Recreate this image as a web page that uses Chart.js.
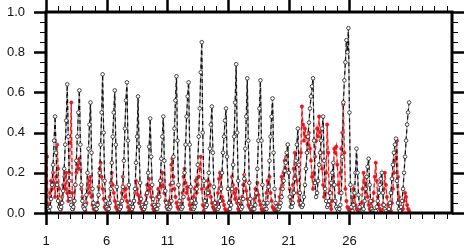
<!DOCTYPE html>
<html><head><meta charset="utf-8">
<script src="https://cdn.jsdelivr.net/npm/chart.js@4/dist/chart.umd.min.js"></script>
<style>html,body{margin:0;padding:0;background:#fff;}canvas{display:block;}</style>
</head><body>
<canvas id="c" width="470" height="249"></canvas>
<script>
// Two-hourly samples (12 per day), days 1..30
const dayStart = 1;
const samplesPerDay = 12;
const xTickLabels = [1, 6, 11, 16, 21, 26];
const yTickValues = [0, 0.2, 0.4, 0.6, 0.8, 1.0];

const blackSeries = [
 0.05,0.03,0.02,0.01,0.03,0.07,0.14,0.24,0.36,0.48,0.30,0.14,
 0.06,0.03,0.02,0.03,0.05,0.11,0.22,0.34,0.46,0.64,0.38,0.16,
 0.07,0.04,0.02,0.03,0.06,0.14,0.26,0.38,0.50,0.61,0.34,0.14,
 0.06,0.03,0.02,0.04,0.09,0.20,0.32,0.44,0.55,0.30,0.12,0.05,
 0.03,0.02,0.02,0.04,0.09,0.20,0.34,0.50,0.69,0.40,0.16,0.06,
 0.03,0.02,0.02,0.05,0.12,0.25,0.38,0.50,0.61,0.34,0.13,0.05,
 0.03,0.02,0.03,0.06,0.13,0.26,0.42,0.56,0.65,0.36,0.14,0.05,
 0.03,0.02,0.03,0.06,0.12,0.25,0.38,0.58,0.33,0.15,0.07,0.04,
 0.03,0.02,0.03,0.05,0.10,0.20,0.33,0.47,0.28,0.14,0.07,0.04,
 0.03,0.02,0.02,0.04,0.08,0.16,0.27,0.38,0.48,0.26,0.11,0.05,
 0.03,0.02,0.02,0.03,0.06,0.15,0.28,0.42,0.56,0.68,0.36,0.14,
 0.06,0.03,0.02,0.03,0.08,0.20,0.34,0.48,0.58,0.65,0.34,0.13,
 0.06,0.03,0.02,0.03,0.05,0.12,0.24,0.38,0.52,0.70,0.85,0.40,
 0.16,0.06,0.03,0.04,0.10,0.20,0.32,0.44,0.53,0.30,0.13,0.05,
 0.03,0.02,0.02,0.03,0.06,0.12,0.20,0.30,0.38,0.46,0.52,0.28,
 0.12,0.05,0.02,0.04,0.12,0.24,0.38,0.55,0.74,0.40,0.16,0.06,
 0.03,0.02,0.03,0.07,0.17,0.32,0.48,0.67,0.36,0.15,0.07,0.03,
 0.02,0.02,0.02,0.04,0.10,0.22,0.36,0.52,0.66,0.36,0.14,0.05,
 0.03,0.02,0.02,0.05,0.13,0.26,0.38,0.48,0.57,0.30,0.12,0.05,
 0.03,0.02,0.02,0.03,0.05,0.08,0.12,0.16,0.21,0.25,0.30,0.34,
 0.20,0.08,0.03,0.03,0.05,0.10,0.17,0.26,0.34,0.42,0.24,0.10,
 0.05,0.03,0.04,0.08,0.14,0.22,0.30,0.38,0.45,0.52,0.58,0.63,
 0.67,0.36,0.15,0.08,0.10,0.16,0.24,0.30,0.36,0.42,0.48,0.26,
 0.12,0.06,0.03,0.04,0.06,0.10,0.15,0.20,0.25,0.14,0.06,0.03,
 0.02,0.01,0.02,0.04,0.10,0.28,0.55,0.66,0.75,0.86,0.80,0.92,
 0.50,0.14,0.03,0.01,0.04,0.10,0.20,0.32,0.20,0.09,0.03,0.01,
 0.01,0.01,0.02,0.06,0.12,0.18,0.23,0.27,0.14,0.06,0.02,0.01,
 0.01,0.00,0.01,0.03,0.06,0.10,0.14,0.17,0.20,0.10,0.04,0.02,
 0.01,0.00,0.00,0.02,0.05,0.10,0.17,0.24,0.30,0.34,0.37,0.16,
 0.05,0.02,0.01,0.03,0.06,0.12,0.20,0.28,0.36,0.44,0.50,0.55
];

const redSeries = [
 0.44,0.28,0.03,0.01,0.10,0.16,0.12,0.20,0.15,0.08,0.18,0.34,
 0.22,0.12,0.04,0.02,0.08,0.14,0.18,0.12,0.20,0.10,0.06,0.20,
 0.35,0.55,0.10,0.02,0.06,0.14,0.20,0.24,0.22,0.27,0.22,0.12,
 0.08,0.04,0.02,0.01,0.05,0.12,0.16,0.10,0.18,0.08,0.04,0.02,
 0.03,0.01,0.02,0.05,0.13,0.22,0.25,0.18,0.12,0.07,0.03,0.02,
 0.02,0.01,0.03,0.08,0.15,0.20,0.14,0.10,0.06,0.03,0.02,0.01,
 0.01,0.02,0.04,0.10,0.18,0.12,0.08,0.12,0.06,0.03,0.01,0.01,
 0.02,0.01,0.03,0.06,0.10,0.16,0.12,0.09,0.05,0.08,0.03,0.02,
 0.01,0.02,0.05,0.09,0.14,0.11,0.17,0.12,0.08,0.04,0.02,0.01,
 0.02,0.04,0.08,0.12,0.10,0.16,0.13,0.20,0.14,0.10,0.06,0.03,
 0.02,0.03,0.06,0.14,0.24,0.27,0.18,0.12,0.08,0.05,0.03,0.02,
 0.03,0.02,0.05,0.10,0.18,0.22,0.15,0.10,0.13,0.07,0.04,0.02,
 0.02,0.04,0.08,0.12,0.16,0.10,0.14,0.18,0.22,0.28,0.12,0.04,
 0.01,0.03,0.06,0.12,0.16,0.10,0.14,0.08,0.05,0.03,0.02,0.01,
 0.02,0.05,0.10,0.17,0.20,0.13,0.08,0.06,0.04,0.02,0.01,0.01,
 0.01,0.02,0.06,0.12,0.18,0.14,0.10,0.07,0.12,0.05,0.02,0.01,
 0.02,0.04,0.08,0.14,0.19,0.16,0.11,0.07,0.04,0.03,0.02,0.01,
 0.01,0.03,0.07,0.12,0.10,0.15,0.09,0.06,0.04,0.02,0.01,0.01,
 0.02,0.05,0.10,0.16,0.13,0.18,0.10,0.06,0.03,0.02,0.01,0.00,
 0.01,0.02,0.04,0.08,0.12,0.18,0.14,0.20,0.26,0.22,0.28,0.34,
 0.20,0.12,0.06,0.08,0.14,0.22,0.30,0.24,0.16,0.10,0.06,0.04,
 0.30,0.53,0.44,0.36,0.42,0.38,0.30,0.34,0.40,0.32,0.26,0.18,
 0.12,0.20,0.28,0.36,0.42,0.38,0.48,0.40,0.30,0.22,0.14,0.08,
 0.10,0.20,0.44,0.30,0.10,0.04,0.02,0.06,0.18,0.32,0.30,0.33,
 0.24,0.14,0.10,0.20,0.32,0.40,0.54,0.30,0.12,0.06,0.03,0.02,
 0.01,0.00,0.02,0.06,0.12,0.08,0.04,0.02,0.00,0.01,0.00,0.02,
 0.05,0.12,0.20,0.15,0.10,0.18,0.08,0.04,0.02,0.01,0.03,0.06,
 0.10,0.18,0.25,0.16,0.08,0.04,0.02,0.01,0.00,0.04,0.12,0.20,
 0.14,0.08,0.04,0.02,0.00,0.01,0.05,0.12,0.20,0.26,0.30,0.36,
 0.18,0.08,0.03,0.01,0.00,0.02,0.06,0.10,0.08,0.04,0.02,0.01
];

const toPoints = arr => arr.map((v, i) => ({x: dayStart + i / samplesPerDay, y: v}));

const frame = {
  id: 'frame',
  afterDraw(chart) {
    const {ctx, chartArea: a, scales: {x, y}} = chart;
    ctx.save();
    ctx.strokeStyle = '#000';
    const seg = (x1, y1, x2, y2, w) => { ctx.lineWidth = w; ctx.beginPath(); ctx.moveTo(x1, y1); ctx.lineTo(x2, y2); ctx.stroke(); };
    for (let d = 1; d <= x.max; d++) {
      const px = Math.round(x.getPixelForValue(d)) + 0.5;
      const major = xTickLabels.includes(d);
      const L = major ? 12 : 6, w = major ? 2.5 : 1;
      seg(px, a.bottom, px, a.bottom + L, w);
      seg(px, a.top, px, a.top - L, w);
    }
    for (let k = 0; k <= 20; k++) {
      const py = Math.round(y.getPixelForValue(k * 0.05)) + 0.5;
      const major = k % 4 === 0;
      const L = major ? 12 : 6, w = major ? 2.5 : 1;
      seg(a.left, py, a.left - L, py, w);
      seg(a.right, py, a.right + L, py, w);
    }
    ctx.lineWidth = 3;
    ctx.strokeRect(a.left, a.top, a.right - a.left, a.bottom - a.top);
    ctx.restore();
  }
};

const zeroPad = s => { s.paddingTop = 0; s.paddingBottom = 0; s.paddingLeft = 0; s.paddingRight = 0; };

new Chart(document.getElementById('c'), {
  type: 'line',
  data: {
    datasets: [
      {data: toPoints(redSeries), borderColor: '#f49a9a', borderWidth: 1.2, pointRadius: 0, tension: 0, order: 4},
      {data: toPoints(redSeries), borderColor: '#e8141c', borderWidth: 1.2, borderDash: [4, 3], pointRadius: 1.7, pointBackgroundColor: '#e8141c', pointBorderColor: '#e8141c', pointBorderWidth: 0.5, tension: 0, order: 3},
      {data: toPoints(blackSeries), borderColor: '#9a9a9a', borderWidth: 1.2, pointRadius: 0, tension: 0, order: 2},
      {data: toPoints(blackSeries), borderColor: '#111', borderWidth: 1.2, borderDash: [4, 3], pointRadius: 1.8, pointBackgroundColor: '#fff', pointBorderColor: '#333', pointBorderWidth: 0.9, tension: 0, order: 1}
    ]
  },
  options: {
    responsive: false,
    animation: false,
    devicePixelRatio: 1,
    layout: {padding: {left: 0, right: 18, top: 12, bottom: 0}},
    plugins: {legend: {display: false}, tooltip: {enabled: false}},
    elements: {point: {hitRadius: 0}},
    scales: {
      x: {
        type: 'linear', min: 1, max: 34.45,
        grid: {display: false, drawTicks: false},
        border: {display: false},
        afterBuildTicks: s => { s.ticks = xTickLabels.map(v => ({value: v})); },
        afterFit: s => { s.height = 36; zeroPad(s); },
        ticks: {autoSkip: false, maxRotation: 0, padding: 21, color: '#111', font: {family: '"Liberation Sans", Arial, sans-serif', size: 13}, callback: v => String(v)}
      },
      y: {
        min: 0, max: 1,
        grid: {display: false, drawTicks: false},
        border: {display: false},
        afterBuildTicks: s => { s.ticks = yTickValues.map(v => ({value: v})); },
        afterFit: s => { s.width = 46; zeroPad(s); },
        ticks: {autoSkip: false, padding: 21, color: '#111', font: {family: '"Liberation Sans", Arial, sans-serif', size: 13}, callback: v => Number(v).toFixed(1)}
      }
    }
  },
  plugins: [frame]
});
</script>
</body></html>
